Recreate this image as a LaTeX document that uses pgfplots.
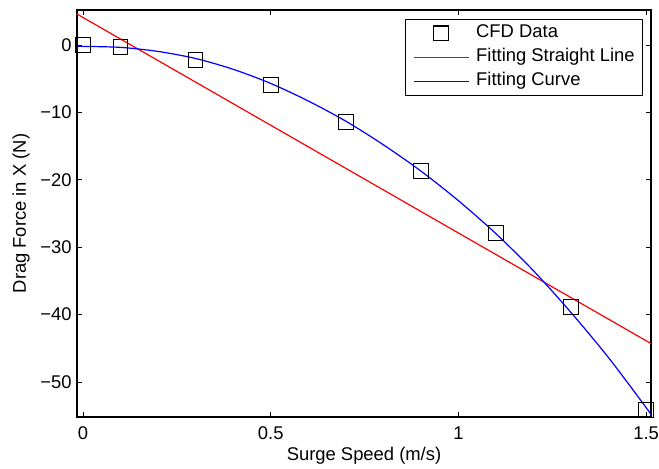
\documentclass[border=0pt]{standalone}
\usepackage{pgfplots}
\pgfplotsset{compat=1.18}
\usepackage{fontspec}
\setmainfont{Liberation Sans}

\pgfplotsset{
  markleg/.style={legend image code/.code={\draw[##1] plot coordinates {(20.6pt,0pt)}; \path (0pt,0pt) (46.5pt,0pt);}},
  lineleg/.style={legend image code/.code={\draw[##1, draw=#1, line width=1.2pt] (0pt,0pt) -- (41.2pt,0pt); \path (46.5pt,0pt);}},
}
\newcommand{\fs}{\fontsize{13.8}{16}\selectfont}

\begin{document}
\begin{tikzpicture}
\begin{axis}[
  name=ax,
  scale only axis,
  width=430.5pt, height=305.25pt,
  xmin=-0.016, xmax=1.513,
  ymin=-55.2, ymax=5.2,
  xtick={0,0.5,1,1.5}, xticklabels={0,0.5,1,1.5},
  ytick={-50,-40,-30,-20,-10,0},
  yticklabels={−50,−40,−30,−20,−10,0},
  tick align=inside,
  xtick pos=both, ytick pos=both,
  xticklabel pos=lower, yticklabel pos=left,
  major tick length=3.8pt,
  tick style={black, line width=0.6pt},
  axis line style={black, line width=0.8pt},
  tick label style={font=\fs},
  xticklabel style={anchor=base, yshift=-16.8pt, inner sep=0pt},
  yticklabel style={anchor=east, xshift=-3.8pt, inner sep=0pt},
  label style={font=\fs},
  xlabel={Surge Speed (m/s)},
  ylabel={Drag Force in X (N)},
  xlabel style={at={(rel axis cs:0.5,0)}, anchor=base, yshift=-32.5pt, inner sep=0pt},
  ylabel style={at={(rel axis cs:0,0.5)}, anchor=base, yshift=38.25pt, inner sep=0pt},
  legend cell align=left,
  legend style={
    at={(1,1)}, anchor=north east, xshift=-6pt, yshift=-6.8pt,
    font=\fs,
    inner xsep=6pt, inner ysep=1.5pt, row sep=0pt,
    nodes={text height=10.4pt, text depth=4pt, inner ysep=1.8pt, inner xsep=0pt},
  },
]
\addplot[only marks, mark=square, mark size=5.5pt, mark options={black, line width=0.8pt}, markleg]
  coordinates {(0,0) (0.1,-0.3) (0.3,-2.2) (0.5,-5.95) (0.7,-11.4) (0.9,-18.7) (1.1,-27.9) (1.3,-38.9) (1.5,-54.2)};
\addlegendentry{CFD Data}
\addplot[red, line width=0.9pt, no marks, lineleg=red]
  coordinates {(-0.016,4.6) (1.513,-44.3)};
\addlegendentry{Fitting Straight Line}
\addplot[blue, line width=0.9pt, no marks, smooth, lineleg=blue]
  coordinates {(-0.016,-0.2) (0,-0.2) (0.1,-0.35) (0.2,-0.95) (0.3,-2.0) (0.4,-3.6) (0.5,-5.7) (0.6,-8.3) (0.7,-11.3) (0.8,-14.8) (0.9,-18.7) (1.0,-23.1) (1.1,-28.0) (1.2,-33.5) (1.3,-39.7) (1.4,-46.4) (1.5,-53.8) (1.513,-54.9)};
\addlegendentry{Fitting Curve}
\end{axis}
\pgfresetboundingbox
\path[use as bounding box] ([xshift=-57.75pt,yshift=-38.25pt]ax.south west) rectangle ([xshift=6pt,yshift=7.5pt]ax.north east);
\end{tikzpicture}
\end{document}
